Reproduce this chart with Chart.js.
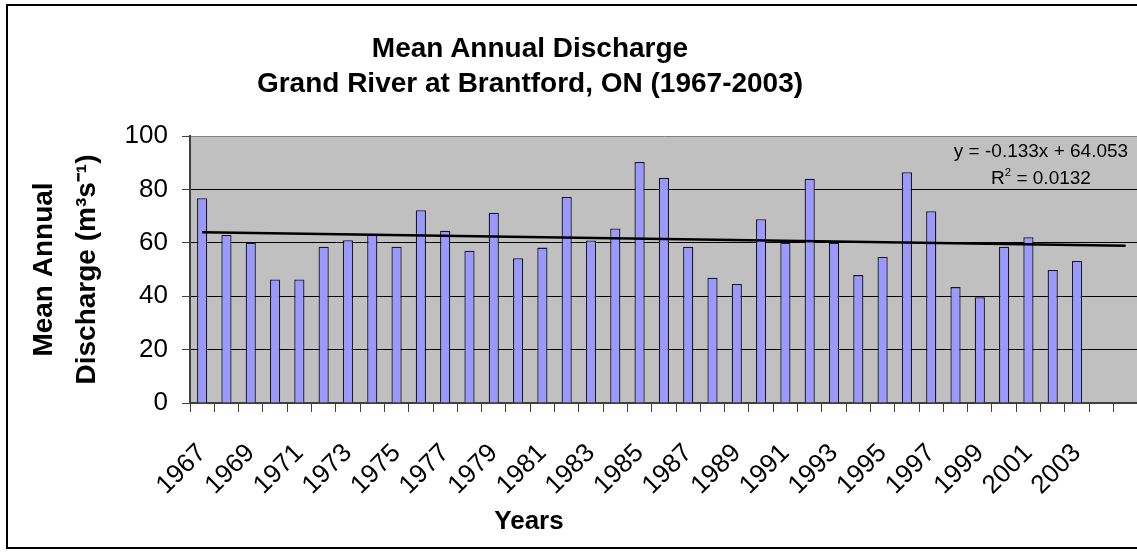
<!DOCTYPE html>
<html>
<head>
<meta charset="utf-8">
<script src="https://cdn.jsdelivr.net/npm/chart.js@4"></script>
<style>
  html, body { margin: 0; overflow: hidden; background: #fff; }
  #frame { position: absolute; left: 6px; top: 4px; width: 1170px; height: 545px; border: 2px solid #000; box-sizing: border-box; }
  .txt { position: absolute; font-family: "Liberation Sans", Arial, sans-serif; color: #000; text-align: center; }
  #title { left: 0; width: 1060px; top: 30px; font-size: 28px; font-weight: bold; line-height: 35px; }
  #xtitle { left: 0; width: 1058px; top: 504px; font-size: 26px; font-weight: bold; line-height: 32px; }
  #eq { left: 941px; width: 200px; top: 137px; font-size: 19px; line-height: 27px; }
  sup { font-size: 0.6em; line-height: 0; vertical-align: 0.7em; }
</style>
</head>
<body>
<div id="frame">
  <canvas id="dischargeChart" width="1166" height="541"></canvas>
</div>
<div class="txt" id="title">Mean Annual Discharge<br>Grand River at Brantford, ON (1967-2003)</div>
<div class="txt" id="xtitle">Years</div>
<div class="txt" id="eq">y = -0.133x + 64.053<br>R<sup>2</sup> = 0.0132</div>
<script>
// years on the x axis, two empty slots after 2003 like the original sheet
const years = ['1967', '1968', '1969', '1970', '1971', '1972', '1973', '1974', '1975', '1976',
  '1977', '1978', '1979', '1980', '1981', '1982', '1983', '1984', '1985', '1986',
  '1987', '1988', '1989', '1990', '1991', '1992', '1993', '1994', '1995', '1996',
  '1997', '1998', '1999', '2000', '2001', '2002', '2003'];
const extraSlots = ['', ''];

// mean annual discharge (m3/s)
const discharge = [76.7, 62.9, 60.0, 46.3, 46.3, 58.5, 61.0, 63.3, 58.5, 72.2,
  64.5, 57.0, 71.3, 54.2, 58.2, 77.2, 60.9, 65.4, 90.3, 84.4,
  58.5, 46.9, 44.6, 68.8, 60.0, 84.0, 60.0, 47.9, 54.7, 86.4,
  71.8, 43.4, 39.6, 58.5, 62.1, 49.8, 53.2];

// linear trendline end points (y = -0.133x + 64.053)
const trendStart = 63.92;
const trendEnd = 58.87;

const yMin = 0, yMax = 100, yStep = 20;

const labels = years.concat(extraSlots);
const trend = labels.map((_, i) => i === 0 ? trendStart : (i === labels.length - 1 ? trendEnd : null));

const plotBg = {
  id: 'plotBg',
  beforeDraw(chart) {
    const { ctx, chartArea: a } = chart;
    ctx.save();
    ctx.fillStyle = '#C0C0C0';
    ctx.fillRect(a.left, a.top, a.right - a.left, a.bottom - a.top);
    ctx.restore();
  }
};

const ctx = document.getElementById('dischargeChart').getContext('2d');
new Chart(ctx, {
  data: {
    labels,
    datasets: [{
      type: 'line',
      data: trend,
      borderColor: '#000',
      borderWidth: 2.5,
      pointRadius: 0,
      spanGaps: true,
      order: 0
    }, {
      type: 'bar',
      data: discharge,
      backgroundColor: '#9999FF',
      borderColor: '#1a1a1a',
      borderWidth: 1.3,
      barPercentage: 0.42,
      categoryPercentage: 1,
      order: 1
    }]
  },
  options: {
    responsive: false,
    animation: false,
    layout: { padding: { top: 130, right: 24, bottom: 0, left: 0 } },
    plugins: {
      legend: { display: false },
      tooltip: { enabled: false }
    },
    scales: {
      x: {
        offset: true,
        grid: { offset: true, drawOnChartArea: false, tickLength: 9, tickColor: '#404040' },
        border: { color: '#404040', width: 2 },
        ticks: {
          autoSkip: false,
          minRotation: 45,
          maxRotation: 45,
          padding: 26,
          color: '#000',
          font: { family: 'Liberation Sans', size: 26 },
          callback: function (value, index) {
            return index % 2 === 0 ? this.getLabelForValue(value) : '';
          }
        },
        afterFit(scale) { scale.height = 144; }
      },
      y: {
        min: yMin,
        max: yMax,
        grid: {
          color: c => c.tick && c.tick.value === yMax ? '#808080' : '#000',
          tickLength: 8,
          tickColor: '#404040'
        },
        border: { color: '#404040', width: 2 },
        ticks: {
          stepSize: yStep,
          padding: 14,
          color: '#000',
          font: { family: 'Liberation Sans', size: 26 }
        },
        title: {
          display: true,
          text: ['Mean Annual', 'Discharge (m\u00B3s\u207B\u00B9)'],
          color: '#000',
          font: { family: 'Liberation Sans', size: 28, weight: 'bold', lineHeight: 1.54 },
          padding: { top: 15, bottom: 0 }
        },
        afterFit(scale) { scale.width = 182; }
      }
    }
  },
  plugins: [plotBg]
});
</script>
</body>
</html>
